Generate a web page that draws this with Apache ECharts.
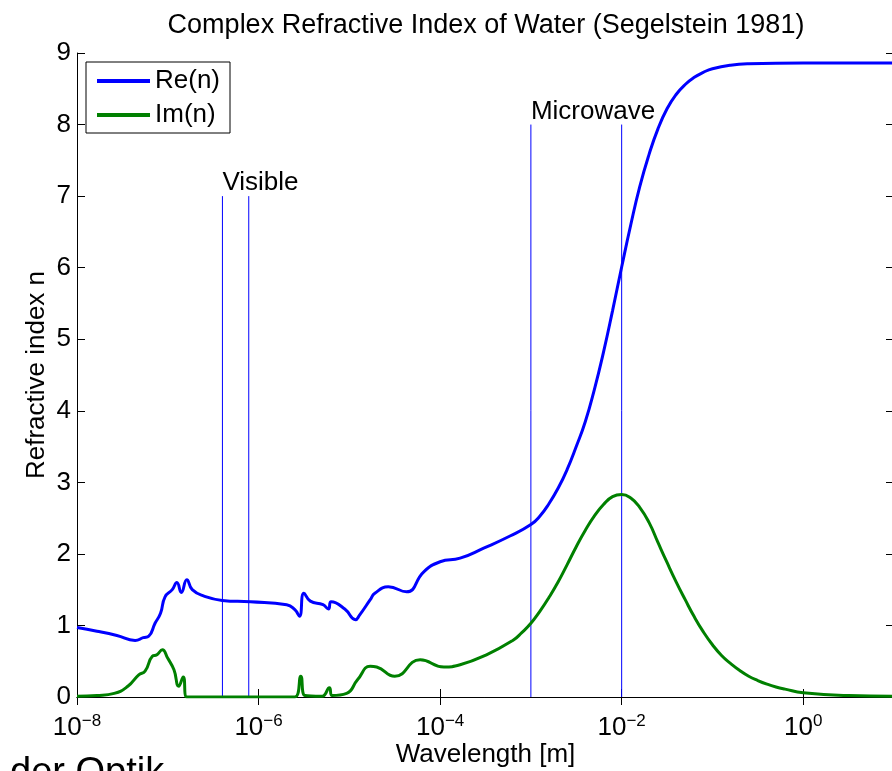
<!DOCTYPE html>
<html><head><meta charset="utf-8">
<script src="https://cdn.jsdelivr.net/npm/echarts@6/dist/echarts.min.js"></script>
<style>html,body{margin:0;padding:0;background:#fff}#c{width:892px;height:771px}</style>
</head><body><div id="c"></div>
<script>
// Wavelength in metres, refractive index values
const reWavelength = [1.00e-8,1.66e-8,2.75e-8,4.37e-8,5.37e-8,6.17e-8,7.24e-8,8.32e-8,9.33e-8,1.12e-7,1.26e-7,1.41e-7,1.62e-7,1.86e-7,2.51e-7,3.98e-7,8.13e-7,2.04e-6,2.51e-6,2.82e-6,3.16e-6,3.72e-6,5.13e-6,5.89e-6,6.31e-6,8.91e-6,1.17e-5,1.29e-5,1.70e-5,1.91e-5,2.69e-5,4.27e-5,6.61e-5,1.00e-4,1.66e-4,3.02e-4,5.89e-4,1.00e-3,1.26e-3,1.58e-3,2.00e-3,2.51e-3,3.16e-3,3.98e-3,5.01e-3,6.31e-3,7.94e-3,1.00e-2,1.26e-2,1.58e-2,2.00e-2,2.51e-2,3.16e-2,3.98e-2,5.01e-2,6.31e-2,7.94e-2,1.00e-1,1.58e-1,2.51e-1,1,10];
const reValue = [0.97,0.92,0.86,0.79,0.83,0.85,1.03,1.17,1.40,1.50,1.60,1.46,1.64,1.50,1.41,1.35,1.33,1.29,1.22,1.13,1.45,1.34,1.29,1.23,1.33,1.23,1.08,1.14,1.36,1.45,1.54,1.47,1.75,1.89,1.94,2.08,2.25,2.41,2.53,2.70,2.92,3.18,3.50,3.85,4.30,4.82,5.40,6.01,6.60,7.13,7.58,7.94,8.22,8.42,8.56,8.66,8.73,8.78,8.83,8.85,8.86,8.86];
const imWavelength = [1.00e-8,1.66e-8,2.57e-8,3.63e-8,4.79e-8,5.62e-8,6.76e-8,7.59e-8,8.71e-8,1.00e-7,1.17e-7,1.32e-7,1.48e-7,1.62e-7,3.16e-7,2.51e-6,2.92e-6,3.24e-6,5.01e-6,6.03e-6,6.46e-6,9.33e-6,1.23e-5,1.70e-5,2.00e-5,3.16e-5,6.03e-5,1.10e-4,1.66e-4,3.24e-4,6.31e-4,7.94e-4,1.00e-3,1.26e-3,1.58e-3,2.00e-3,2.51e-3,3.16e-3,3.98e-3,5.01e-3,6.31e-3,7.94e-3,1.00e-2,1.26e-2,1.58e-2,2.00e-2,2.51e-2,3.16e-2,3.98e-2,5.01e-2,6.31e-2,7.94e-2,1.00e-1,1.26e-1,1.58e-1,2.00e-1,2.51e-1,3.16e-1,3.98e-1,5.01e-1,6.31e-1,1,3.16,10];
const imValue = [0.01,0.02,0.05,0.15,0.31,0.36,0.57,0.59,0.66,0.54,0.38,0.15,0.28,0.00,0.00,0.00,0.29,0.02,0.01,0.13,0.02,0.05,0.24,0.43,0.42,0.29,0.52,0.42,0.45,0.59,0.79,0.90,1.03,1.20,1.39,1.61,1.85,2.10,2.33,2.53,2.69,2.80,2.83,2.78,2.65,2.44,2.16,1.88,1.61,1.36,1.12,0.91,0.73,0.58,0.47,0.37,0.29,0.23,0.18,0.14,0.11,0.06,0.02,0.01];
// Band markers
const visibleLines = [4.0e-7, 7.8e-7];
const visibleTop = 7;
const microwaveLines = [1e-3, 1e-2];
const microwaveTop = 8;
const annoX = [4.0e-7, 1e-3];
const annoY = [7, 8];
const annoText = ['Visible', 'Microwave'];
const seriesNames = ['Re(n)', 'Im(n)'];

const FONT = 'Liberation Sans, Arial, Helvetica, sans-serif';
const BLUE = '#0000ff', GREEN = '#008000';
const chart = echarts.init(document.getElementById('c'));
const zip = (xs, ys) => xs.map((x, i) => [x, ys[i]]);
const sup = v => {
  const e = Math.round(Math.log10(v));
  return '{b|10}{e|' + (e < 0 ? '\u2212' + (-e) : e) + '}';
};
const axisLineStyle = {color: '#000', width: 1};
const bandSeries = visibleLines.map(x => [x, visibleTop])
  .concat(microwaveLines.map(x => [x, microwaveTop]))
  .map(([x, top]) => ({
    type: 'line', silent: true, showSymbol: false, symbol: 'none', z: 3,
    lineStyle: {color: BLUE, width: 1}, itemStyle: {color: BLUE},
    data: [[x, 0], [x, top]]
  }));

chart.setOption({
  animation: false,
  backgroundColor: '#fff',
  textStyle: {fontFamily: FONT},
  title: {
    text: 'Complex Refractive Index of Water (Segelstein 1981)',
    left: 486, textAlign: 'center', top: 12, padding: 0,
    textStyle: {fontSize: 27, fontWeight: 'normal', color: '#000', fontFamily: FONT}
  },
  legend: {
    orient: 'vertical', left: 86, top: 62,
    padding: [6, 10, 5, 11], itemGap: 8,
    itemWidth: 53, itemHeight: 4, icon: 'rect',
    borderColor: '#000', borderWidth: 1, borderRadius: 0, backgroundColor: '#fff',
    textStyle: {fontSize: 26, color: '#000', fontFamily: FONT},
    data: seriesNames
  },
  grid: {left: 77, right: -2, top: 53, bottom: 74, containLabel: false, outerBoundsMode: 'none'},
  xAxis: [{
    type: 'log', logBase: 10, min: 1e-8, max: 10, interval: 2,
    position: 'bottom',
    name: 'Wavelength [m]', nameLocation: 'middle', nameGap: 45, nameMoveOverlap: false,
    nameTextStyle: {fontSize: 26, color: '#000', fontFamily: FONT},
    axisLine: {show: true, lineStyle: axisLineStyle},
    axisTick: {show: true, inside: true, length: 8, lineStyle: axisLineStyle},
    splitLine: {show: false}, minorTick: {show: false},
    axisLabel: {
      color: '#000', margin: 18, showMaxLabel: false, formatter: sup,
      rich: {
        b: {fontSize: 26, lineHeight: 26, fontFamily: FONT, color: '#000'},
        e: {fontSize: 17, lineHeight: 17, padding: [0, 0, 13, 0], fontFamily: FONT, color: '#000'}
      }
    }
  }, {
    type: 'log', logBase: 10, min: 1e-8, max: 10, interval: 2,
    position: 'top',
    axisLine: {show: true, lineStyle: axisLineStyle},
    axisTick: {show: true, inside: true, length: 8, lineStyle: axisLineStyle},
    axisLabel: {show: false}, splitLine: {show: false}
  }],
  yAxis: [{
    type: 'value', min: 0, max: 9, interval: 1, position: 'left',
    name: 'Refractive index n', nameLocation: 'middle', nameGap: 27, nameMoveOverlap: false,
    nameTextStyle: {fontSize: 26, color: '#000', fontFamily: FONT},
    axisLine: {show: true, lineStyle: axisLineStyle},
    axisTick: {show: true, inside: true, length: 8, lineStyle: axisLineStyle},
    axisLabel: {color: '#000', fontSize: 26, margin: 6, fontFamily: FONT},
    splitLine: {show: false}
  }, {
    type: 'value', min: 0, max: 9, interval: 1, position: 'right',
    axisLine: {show: true, lineStyle: axisLineStyle},
    axisTick: {show: true, inside: true, length: 8, lineStyle: axisLineStyle},
    axisLabel: {show: false}, splitLine: {show: false}
  }],
  series: bandSeries.concat([{
    name: seriesNames[0], type: 'line', data: zip(reWavelength, reValue),
    showSymbol: false, smooth: 0.5, lineStyle: {color: BLUE, width: 3},
    itemStyle: {color: BLUE}, z: 4
  }, {
    name: seriesNames[1], type: 'line', data: zip(imWavelength, imValue),
    showSymbol: false, smooth: 0.5, lineStyle: {color: GREEN, width: 3},
    itemStyle: {color: GREEN}, z: 4
  }, {
    type: 'scatter', silent: true, symbolSize: 0, itemStyle: {color: '#000'},
    data: annoX.map((x, i) => [x, annoY[i], annoText[i]]),
    label: {
      show: true, position: [0, 0], align: 'left', verticalAlign: 'bottom',
      formatter: p => p.value[2], fontSize: 26, color: '#000', opacity: 1,
      textBorderWidth: 0, fontFamily: FONT
    }, z: 5
  }]),
  graphic: [{
    type: 'text', left: 10, top: 755, silent: true,
    style: {text: 'der Optik', fontSize: 38, fill: '#000', fontFamily: FONT}
  }]
});
</script></body></html>
